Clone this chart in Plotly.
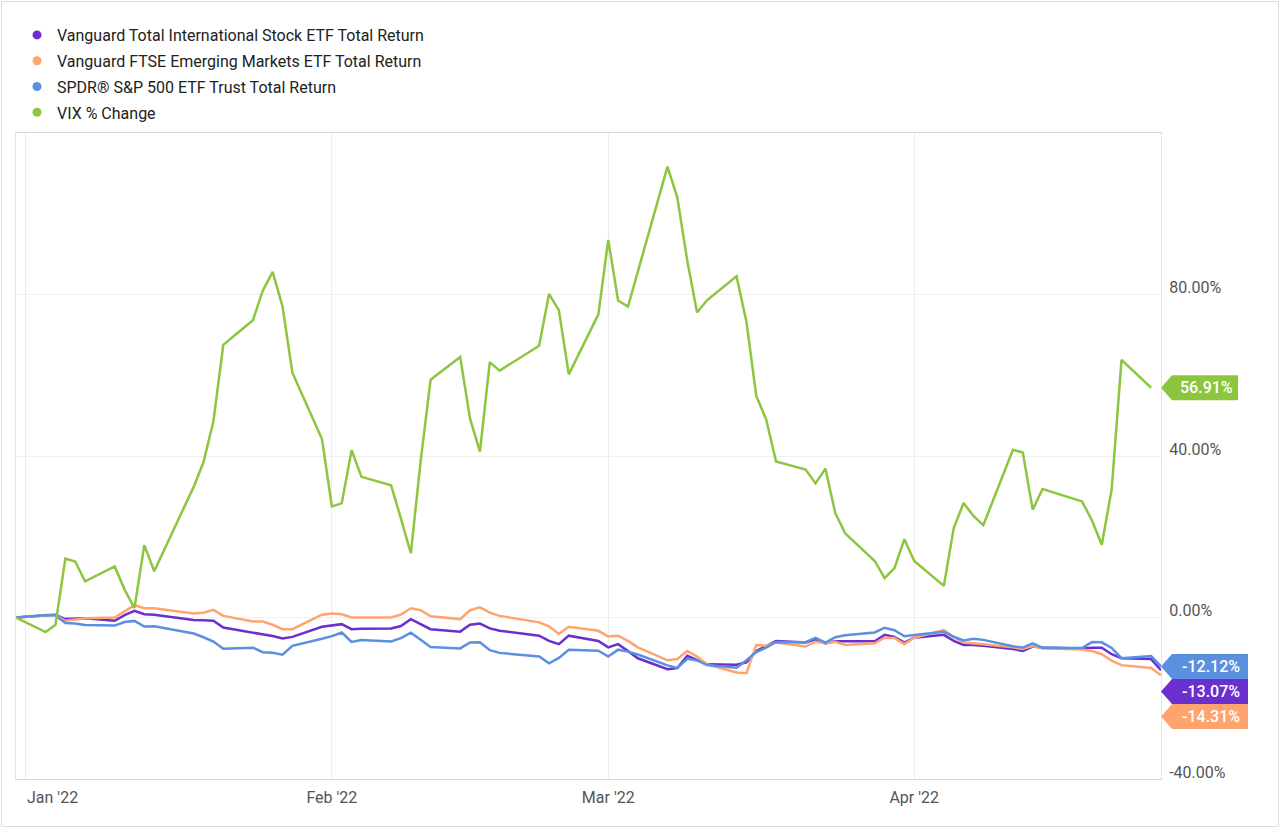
import pandas as pd
import plotly.graph_objects as go

# ---------------- data ----------------
holidays = ["2022-01-17", "2022-02-21", "2022-04-15"]
dates = [d for d in pd.bdate_range("2021-12-31", "2022-04-26") if d.strftime("%Y-%m-%d") not in holidays]

vxus = [0, 0.5, 0.66, -0.4, -0.3, -0.2, -0.8, 0.6, 1.65, 0.8, 0.7, -0.6, -0.7, -0.8, -2.5,
        -3.7, -4.1, -4.6, -5.2, -4.8, -2.3, -1.9, -1.65, -2.9, -2.8, -2.7, -2.1, -0.4, -1.6,
        -2.9, -3.5, -1.8, -1.5, -2.7, -3.3, -4.5, -5.8, -6.6, -4.5, -5.8, -7.4, -6.6, -8.3,
        -10.1, -12.8, -12.5, -9.5, -10.6, -11.6, -11.7, -11.1, -8.3, -7.0, -5.8, -6.2, -5.4,
        -6.4, -5.9, -5.9, -5.9, -4.3, -4.8, -6.2, -5.0, -4.3, -5.8, -6.8, -6.8, -7.0, -7.8,
        -8.3, -7.2, -7.4, -7.7, -7.5, -7.5, -9.1, -10.1, -10.3, -13.07]

vwo = [0, 0.5, 0.66, -0.8, -0.5, -0.2, 0.0, 1.5, 3.05, 2.3, 2.3, 1.0, 1.2, 1.9, 0.4,
       -1.0, -1.0, -1.8, -2.9, -2.9, 0.7, 1.0, 0.8, 0.0, 0.0, 0.0, 0.7, 2.3, 1.8,
       0.3, -0.4, 1.8, 2.5, 1.2, 0.4, -1.2, -2.2, -4.1, -2.3, -3.3, -4.7, -4.5, -5.8,
       -7.4, -10.6, -10.3, -8.3, -9.7, -11.6, -13.6, -13.8, -6.8, -7.0, -6.2, -7.2, -6.0,
       -6.4, -6.0, -6.8, -6.4, -5.0, -5.1, -6.6, -5.0, -3.1, -4.8, -6.2, -6.4, -6.6, -7.4,
       -7.8, -7.1, -7.6, -7.9, -8.3, -9.1, -10.7, -11.8, -12.5, -14.31]

spy = [0, 0.64, 0.57, -1.38, -1.47, -1.87, -2.01, -1.11, -0.84, -2.25, -2.17, -3.97, -4.90,
       -5.95, -7.73, -7.47, -8.60, -8.73, -9.22, -7.01, -5.26, -4.61, -3.71, -6.06, -5.57,
       -5.92, -5.13, -3.76, -5.50, -7.29, -7.65, -6.19, -6.11, -8.10, -8.76, -9.68, -11.34,
       -10.02, -8.00, -8.23, -9.65, -7.97, -8.45, -9.18, -11.86, -12.49, -10.25, -10.63,
       -11.79, -12.44, -10.57, -8.57, -7.44, -6.07, -6.11, -5.05, -6.21, -4.87, -4.39, -3.71,
       -2.53, -3.15, -4.66, -4.33, -3.56, -4.77, -5.69, -5.29, -5.54, -7.13, -7.45, -6.42,
       -7.55, -7.57, -6.09, -6.15, -7.53, -10.08, -9.57, -12.12]

vix = [0, -3.60, -1.80, 14.58, 13.88, 8.94, 12.66, 6.91, 2.32, 17.94, 11.44, 32.35, 38.50,
       48.61, 67.54, 73.64, 80.95, 85.60, 77.06, 60.63, 44.19, 27.53, 28.28, 41.41, 34.84,
       32.75, 24.51, 15.91, 38.85, 58.89, 64.52, 49.25, 41.06, 63.24, 61.15, 67.31, 80.14,
       76.07, 60.22, 75.09, 93.50, 78.51, 77.00, 85.71, 111.67, 104.01, 88.44, 75.55, 78.57,
       84.49, 73.23, 54.88, 49.07, 38.62, 36.64, 33.22, 36.88, 25.84, 20.85, 14.00, 9.76,
       12.25, 19.40, 14.00, 7.84, 22.13, 28.34, 25.15, 22.88, 41.52, 40.88, 26.71, 31.82,
       28.75, 24.10, 18.00, 31.71, 63.82, 56.91]

names = ["Vanguard Total International Stock ETF Total Return",
         "Vanguard FTSE Emerging Markets ETF Total Return",
         "SPDR® S&P 500 ETF Trust Total Return",
         "VIX % Change"]
colors = ["#6a2fcc", "#ffa46e", "#5b8fe0", "#8cc63f"]
series = [vxus, vwo, spy, vix]

tick_dates = ["2022-01-01", "2022-02-01", "2022-03-01", "2022-04-01"]
tick_text = ["Jan '22", "Feb '22", "Mar '22", "Apr '22"]
y_ticks = [-40, 0, 40, 80]
y_text = ["-40.00%", "0.00%", "40.00%", "80.00%"]

# ---------------- layout geometry ----------------
W, H = 1280, 828
L, R, T, B = 16, 1161, 133, 779
pw, ph = R - L, B - T
ymin, ymax = -40, 120
ppu = ph / (ymax - ymin)

fig = go.Figure()
for i, (nm, col, vals) in enumerate(zip(names, colors, series)):
    fig.add_trace(go.Scatter(x=dates[:len(vals)], y=vals, mode="lines", name=nm,
                             line=dict(color=col, width=2.5), showlegend=False,
                             legendgroup=f"g{i}", hoverinfo="skip"))
for i, (nm, col) in enumerate(zip(names, colors)):
    fig.add_trace(go.Scatter(x=[None], y=[None], mode="markers", name=nm,
                             legendgroup=f"g{i}", marker=dict(color=col, size=9)))

# end-value tags
tags = sorted([(vals[-1], col) for vals, col in zip(series, colors)], key=lambda t: -t[0])
shapes, annots = [], []
tag_h = 25
prev_center = None
for val, col in tags:
    natural = val * ppu
    if prev_center is not None and natural > prev_center - tag_h:
        center = prev_center - tag_h
    else:
        center = natural
    prev_center = center
    dy = center - natural
    txt = f"{val:.2f}%"
    wbox = 77 if val >= 0 else 87
    hh = tag_h / 2
    path = (f"M 0,{dy} L 11,{dy + hh} L {wbox},{dy + hh} L {wbox},{dy - hh} "
            f"L 11,{dy - hh} Z")
    shapes.append(dict(type="path", xref="paper", yref="y", xsizemode="pixel",
                       ysizemode="pixel", xanchor=1, yanchor=val, path=path,
                       fillcolor=col, line=dict(width=0), layer="above"))
    annots.append(dict(x=1, xref="paper", y=val, yref="y", text=txt, showarrow=False,
                       xanchor="center", yanchor="middle", xshift=(11 + wbox) / 2 + 1,
                       yshift=dy, font=dict(family="Roboto", size=16, color="white",
                                            weight=500)))

# first x tick label is left-aligned on its gridline (the others are centred by the axis)
annots.append(dict(x=tick_dates[0], xref="x", y=0, yref="paper", text=tick_text[0],
                   showarrow=False, xanchor="left", yanchor="middle", yshift=-18,
                   xshift=-1, font=dict(family="Roboto", size=16, color="#555555")))
axis_text = [""] + tick_text[1:]

# outer frame
shapes.append(dict(type="rect", xref="paper", yref="paper",
                   x0=(1.5 - L) / pw, x1=(W - 1.5 - L) / pw,
                   y0=-(H - 1.5 - B) / ph, y1=(B - 1.5) / ph,
                   line=dict(color="#dcdcdc", width=1), fillcolor="rgba(0,0,0,0)",
                   layer="below"))

fig.update_layout(
    width=W, height=H,
    margin=dict(l=L, r=W - R, t=T, b=H - B, pad=0, autoexpand=False),
    paper_bgcolor="white", plot_bgcolor="white",
    font=dict(family="Roboto", color="#555555", size=16),
    legend=dict(x=(17 - L) / pw, y=(B - 18) / ph, xanchor="left", yanchor="top",
                font=dict(family="Roboto", size=16, color="#222222"),
                bgcolor="rgba(0,0,0,0)", borderwidth=0, tracegroupgap=2,
                traceorder="grouped"),
    xaxis=dict(type="date", range=[dates[0], dates[-1]], tickvals=tick_dates,
               ticktext=axis_text, showgrid=True, gridcolor="#ececec", gridwidth=1,
               showline=True, linecolor="#d6d6d6", linewidth=1, mirror=True,
               zeroline=False, ticks="", tickfont=dict(size=16, color="#555555"),
               ticklabelstandoff=4, automargin=False),
    yaxis=dict(side="right", range=[ymin, ymax], tickvals=y_ticks, ticktext=y_text,
               showgrid=True, gridcolor="#efefef", gridwidth=1, zeroline=False,
               showline=True, linecolor="#e6e6e6", linewidth=1, mirror=True,
               ticks="", tickfont=dict(size=16, color="#555555"),
               ticklabelstandoff=4, ticklabelshift=-7, ticklabeloverflow="allow",
               automargin=False),
    shapes=shapes, annotations=annots,
    hovermode=False,
)

fig.write_html("out.html", config={"displayModeBar": False},
               post_script="document.body.style.margin='0';document.body.style.overflow='hidden';")
